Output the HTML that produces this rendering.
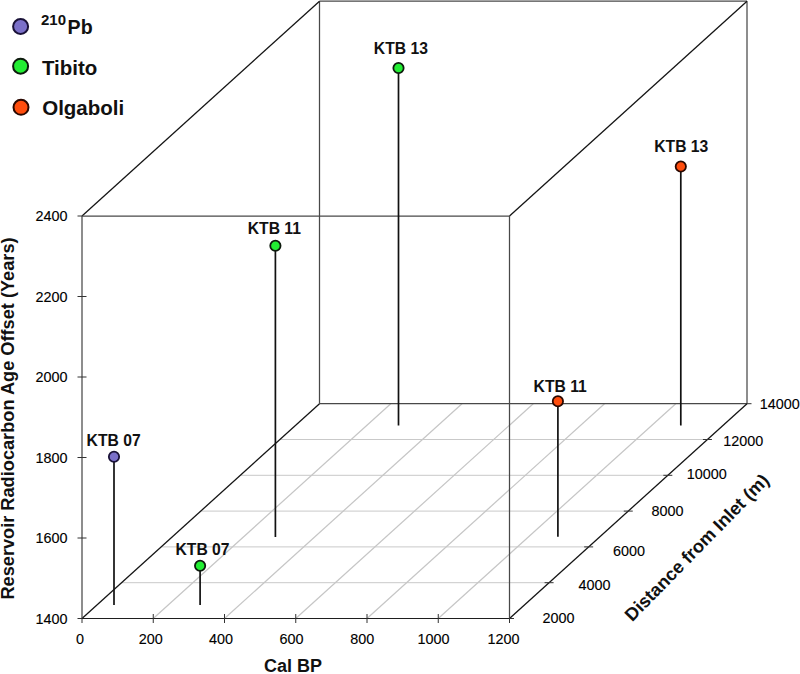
<!DOCTYPE html>
<html><head><meta charset="utf-8"><title>Reservoir age offset 3D plot</title>
<style>
html,body{margin:0;padding:0;background:#fff;}
body{width:800px;height:674px;overflow:hidden;}
svg{display:block;}
text{font-family:"Liberation Sans",sans-serif;fill:#111;}
.lab{font-size:15.7px;font-weight:bold;}
.leg{font-size:20.5px;font-weight:bold;}
.sup{font-size:15px;font-weight:bold;}
.tk{font-size:14.4px;fill:#000;stroke:#000;stroke-width:0.12px;}
.ttl{font-size:18px;font-weight:bold;}
.ytl{font-size:18.2px;}
.ztl{font-size:18.2px;}
</style></head>
<body>
<svg width="800" height="674" viewBox="0 0 800 674">
<line x1="121.58" y1="582.70" x2="549.08" y2="582.70" stroke="#c9c9c9" stroke-width="1.0"/>
<line x1="161.17" y1="546.90" x2="588.67" y2="546.90" stroke="#c9c9c9" stroke-width="1.0"/>
<line x1="200.75" y1="511.10" x2="628.25" y2="511.10" stroke="#c9c9c9" stroke-width="1.0"/>
<line x1="240.33" y1="475.30" x2="667.83" y2="475.30" stroke="#c9c9c9" stroke-width="1.0"/>
<line x1="279.92" y1="439.50" x2="707.42" y2="439.50" stroke="#c9c9c9" stroke-width="1.0"/>
<line x1="153.25" y1="618.50" x2="390.75" y2="403.70" stroke="#c6c6c6" stroke-width="1.25"/>
<line x1="224.50" y1="618.50" x2="462.00" y2="403.70" stroke="#c6c6c6" stroke-width="1.25"/>
<line x1="295.75" y1="618.50" x2="533.25" y2="403.70" stroke="#c6c6c6" stroke-width="1.25"/>
<line x1="367.00" y1="618.50" x2="604.50" y2="403.70" stroke="#c6c6c6" stroke-width="1.25"/>
<line x1="438.25" y1="618.50" x2="675.75" y2="403.70" stroke="#c6c6c6" stroke-width="1.25"/>
<line x1="319.50" y1="1.20" x2="747.00" y2="1.20" stroke="#484848" stroke-width="1.25"/>
<line x1="319.50" y1="1.20" x2="319.50" y2="403.70" stroke="#484848" stroke-width="1.25"/>
<line x1="747.00" y1="1.20" x2="747.00" y2="403.70" stroke="#484848" stroke-width="1.25"/>
<line x1="319.50" y1="403.70" x2="747.00" y2="403.70" stroke="#484848" stroke-width="1.25"/>
<line x1="82.00" y1="216.00" x2="319.50" y2="1.20" stroke="#151515" stroke-width="1.3"/>
<line x1="509.50" y1="216.00" x2="747.00" y2="1.20" stroke="#151515" stroke-width="1.3"/>
<line x1="82.00" y1="618.50" x2="319.50" y2="403.70" stroke="#151515" stroke-width="1.3"/>
<line x1="509.50" y1="618.50" x2="747.00" y2="403.70" stroke="#151515" stroke-width="1.3"/>
<line x1="82.00" y1="216.00" x2="509.50" y2="216.00" stroke="#484848" stroke-width="1.25"/>
<line x1="82.00" y1="216.00" x2="82.00" y2="618.50" stroke="#484848" stroke-width="1.25"/>
<line x1="509.50" y1="216.00" x2="509.50" y2="618.50" stroke="#484848" stroke-width="1.25"/>
<line x1="82.00" y1="618.50" x2="509.50" y2="618.50" stroke="#1e1e1e" stroke-width="1.2"/>
<line x1="77.50" y1="618.50" x2="82.00" y2="618.50" stroke="#333" stroke-width="1.0"/>
<line x1="77.50" y1="538.00" x2="86.50" y2="538.00" stroke="#333" stroke-width="1.0"/>
<line x1="77.50" y1="457.50" x2="86.50" y2="457.50" stroke="#333" stroke-width="1.0"/>
<line x1="77.50" y1="377.00" x2="86.50" y2="377.00" stroke="#333" stroke-width="1.0"/>
<line x1="77.50" y1="296.50" x2="86.50" y2="296.50" stroke="#333" stroke-width="1.0"/>
<line x1="77.50" y1="216.00" x2="82.00" y2="216.00" stroke="#333" stroke-width="1.0"/>
<line x1="82.00" y1="618.50" x2="82.00" y2="623.00" stroke="#333" stroke-width="1.0"/>
<line x1="153.25" y1="614.00" x2="153.25" y2="623.00" stroke="#333" stroke-width="1.0"/>
<line x1="224.50" y1="614.00" x2="224.50" y2="623.00" stroke="#333" stroke-width="1.0"/>
<line x1="295.75" y1="614.00" x2="295.75" y2="623.00" stroke="#333" stroke-width="1.0"/>
<line x1="367.00" y1="614.00" x2="367.00" y2="623.00" stroke="#333" stroke-width="1.0"/>
<line x1="438.25" y1="614.00" x2="438.25" y2="623.00" stroke="#333" stroke-width="1.0"/>
<line x1="509.50" y1="618.50" x2="509.50" y2="623.00" stroke="#333" stroke-width="1.0"/>
<line x1="509.50" y1="618.50" x2="514.00" y2="618.50" stroke="#333" stroke-width="1.0"/>
<line x1="544.58" y1="582.70" x2="553.58" y2="582.70" stroke="#333" stroke-width="1.0"/>
<line x1="584.17" y1="546.90" x2="593.17" y2="546.90" stroke="#333" stroke-width="1.0"/>
<line x1="623.75" y1="511.10" x2="632.75" y2="511.10" stroke="#333" stroke-width="1.0"/>
<line x1="663.33" y1="475.30" x2="672.33" y2="475.30" stroke="#333" stroke-width="1.0"/>
<line x1="702.92" y1="439.50" x2="711.92" y2="439.50" stroke="#333" stroke-width="1.0"/>
<line x1="747.00" y1="403.70" x2="751.50" y2="403.70" stroke="#333" stroke-width="1.0"/>
<line x1="114.00" y1="456.80" x2="114.00" y2="604.90" stroke="#111" stroke-width="1.7"/>
<line x1="200.10" y1="565.70" x2="200.10" y2="604.90" stroke="#111" stroke-width="1.7"/>
<line x1="275.40" y1="245.75" x2="275.40" y2="537.00" stroke="#111" stroke-width="1.7"/>
<line x1="398.50" y1="68.00" x2="398.50" y2="425.50" stroke="#111" stroke-width="1.7"/>
<line x1="557.90" y1="401.30" x2="557.90" y2="536.70" stroke="#111" stroke-width="1.7"/>
<line x1="680.80" y1="166.50" x2="680.80" y2="425.60" stroke="#111" stroke-width="1.7"/>
<circle cx="114.0" cy="456.8" r="5.15" fill="#7b70c9" stroke="#1a1238" stroke-width="1.8"/>
<text x="113.6" y="445.5" text-anchor="middle" class="lab">KTB 07</text>
<circle cx="200.1" cy="565.7" r="5.15" fill="#22ee33" stroke="#0d1a0d" stroke-width="1.8"/>
<text x="202.55" y="554.9" text-anchor="middle" class="lab">KTB 07</text>
<circle cx="275.4" cy="245.75" r="5.15" fill="#22ee33" stroke="#0d1a0d" stroke-width="1.8"/>
<text x="274.35" y="233.8" text-anchor="middle" class="lab">KTB 11</text>
<circle cx="398.5" cy="68.0" r="5.15" fill="#22ee33" stroke="#0d1a0d" stroke-width="1.8"/>
<text x="400.85" y="54.0" text-anchor="middle" class="lab">KTB 13</text>
<circle cx="557.9" cy="401.3" r="5.15" fill="#ff4d0d" stroke="#2a0800" stroke-width="1.8"/>
<text x="560.2" y="392.1" text-anchor="middle" class="lab">KTB 11</text>
<circle cx="680.8" cy="166.5" r="5.15" fill="#ff4d0d" stroke="#2a0800" stroke-width="1.8"/>
<text x="681.3" y="152.1" text-anchor="middle" class="lab">KTB 13</text>
<circle cx="20.6" cy="26.5" r="7.5" fill="#7b70c9" stroke="#1a1238" stroke-width="2"/>
<circle cx="20.6" cy="66.2" r="7.5" fill="#22ee33" stroke="#0d1a0d" stroke-width="2"/>
<circle cx="21.0" cy="107.3" r="7.5" fill="#ff4d0d" stroke="#2a0800" stroke-width="2"/>
<text x="41.0" y="24.6" class="sup">210</text>
<text x="67.6" y="34.2" class="leg" style="font-size:19.6px">Pb</text>
<text x="41.9" y="74.9" class="leg">Tibito</text>
<text x="42.2" y="114.7" class="leg">Olgaboli</text>
<text x="67.6" y="623.80" text-anchor="end" class="tk">1400</text>
<text x="67.6" y="543.30" text-anchor="end" class="tk">1600</text>
<text x="67.6" y="462.80" text-anchor="end" class="tk">1800</text>
<text x="67.6" y="382.30" text-anchor="end" class="tk">2000</text>
<text x="67.6" y="301.80" text-anchor="end" class="tk">2200</text>
<text x="67.6" y="221.30" text-anchor="end" class="tk">2400</text>
<text x="80" y="644.3" text-anchor="middle" class="tk">0</text>
<text x="150.75" y="644.3" text-anchor="middle" class="tk">200</text>
<text x="220.9" y="644.3" text-anchor="middle" class="tk">400</text>
<text x="291.4" y="644.3" text-anchor="middle" class="tk">600</text>
<text x="362.2" y="644.3" text-anchor="middle" class="tk">800</text>
<text x="433.5" y="644.3" text-anchor="middle" class="tk">1000</text>
<text x="503.5" y="644.3" text-anchor="middle" class="tk">1200</text>
<text x="542.50" y="622.80" class="tk">2000</text>
<text x="578.50" y="589.70" class="tk">4000</text>
<text x="613.10" y="556.25" class="tk">6000</text>
<text x="651.60" y="516.40" class="tk">8000</text>
<text x="686.80" y="479.40" class="tk">10000</text>
<text x="723.20" y="446.00" class="tk">12000</text>
<text x="759.80" y="409.40" class="tk">14000</text>
<text x="264" y="671.5" class="ttl">Cal BP</text>
<text transform="translate(14.3,599.6) rotate(-90)" x="0" y="0" class="ttl ytl">Reservoir Radiocarbon Age Offset (Years)</text>
<text transform="translate(632.3,622.2) rotate(-45.6)" x="0" y="0" class="ttl ztl">Distance from Inlet (m)</text>
</svg>
</body></html>
